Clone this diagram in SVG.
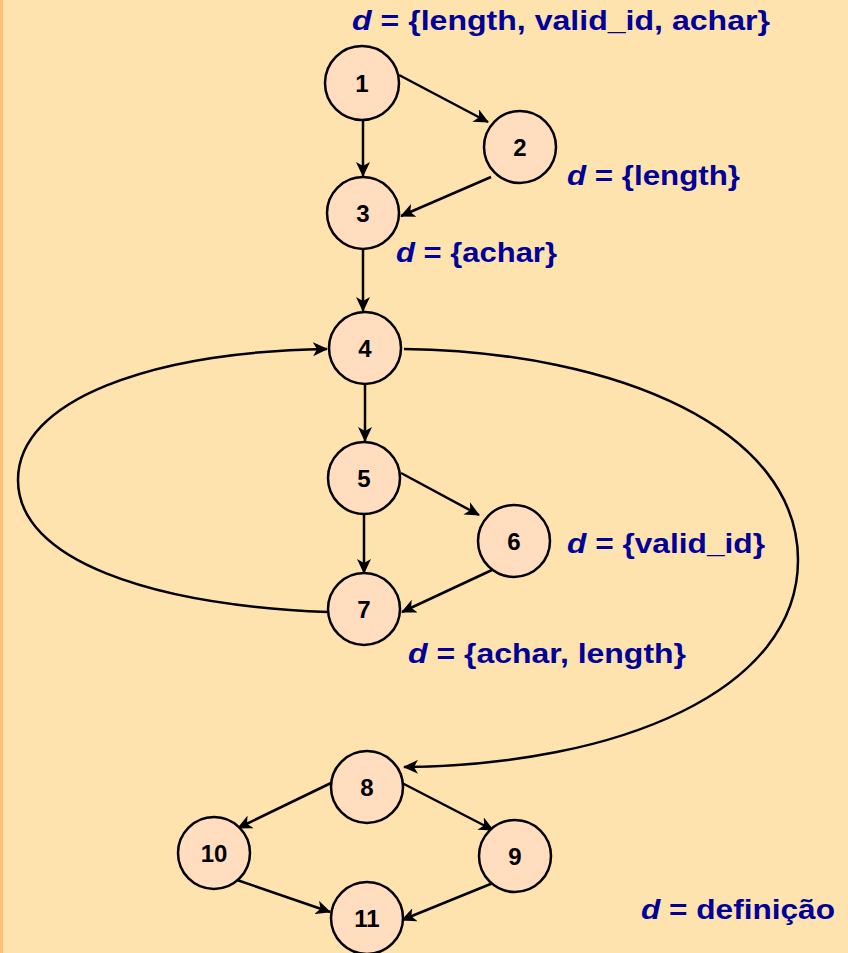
<svg xmlns="http://www.w3.org/2000/svg" width="848" height="953" viewBox="0 0 848 953">
<defs>
<marker id="ah" markerWidth="16" markerHeight="14" refX="14" refY="7" orient="auto" markerUnits="userSpaceOnUse">
<path d="M0,0 L15,7 L0,14 L4,7 Z" fill="#000"/>
</marker>
<style>
.n circle{fill:#FFDDBE;stroke:#000;stroke-width:2.5}
.n text{font-family:"Liberation Sans",Arial,sans-serif;font-weight:bold;font-size:24px;fill:#000;text-anchor:middle}
.e{fill:none;stroke:#000;stroke-width:2.5;marker-end:url(#ah)}
.d{font-family:"Liberation Sans",Arial,sans-serif;font-weight:bold;font-size:27px;fill:#000099}
.d tspan.i{font-style:italic}
</style>
</defs>
<rect x="0" y="0" width="848" height="953" fill="#FFE3AF"/>
<rect x="0" y="0" width="3" height="953" fill="#FFC07A"/>
<g id="connectors">
<line class="e" x1="399" y1="75" x2="488" y2="122"/>
<line class="e" x1="363" y1="120" x2="363" y2="176"/>
<line class="e" x1="491" y1="177" x2="401" y2="216"/>
<line class="e" x1="363" y1="249" x2="363" y2="311"/>
<line class="e" x1="365" y1="385" x2="365" y2="441"/>
<line class="e" x1="401" y1="473" x2="479" y2="515"/>
<line class="e" x1="364" y1="514" x2="364" y2="573"/>
<line class="e" x1="492" y1="570" x2="402" y2="612"/>
<path class="e" d="M328,612 C150,605 18,560 18,480 C18,400 150,352 327,349"/>
<path class="e" d="M404,349 C620,352 798,430 798,560 C798,690 620,765 404,767"/>
<line class="e" x1="331" y1="783" x2="238" y2="828"/>
<line class="e" x1="402" y1="783" x2="493" y2="830"/>
<line class="e" x1="237" y1="880" x2="330" y2="912"/>
<line class="e" x1="493" y1="883" x2="402" y2="920"/>
</g>
<g id="n1" class="n"><circle cx="362" cy="83" r="37"/><text x="362" y="92">1</text></g>
<g id="n2" class="n"><circle cx="520" cy="147" r="36"/><text x="520" y="156">2</text></g>
<g id="n3" class="n"><circle cx="363" cy="213" r="36"/><text x="363" y="222">3</text></g>
<g id="n4" class="n"><circle cx="365" cy="348" r="36"/><text x="365" y="357">4</text></g>
<g id="n5" class="n"><circle cx="364" cy="478" r="36"/><text x="364" y="487">5</text></g>
<g id="n6" class="n"><circle cx="514" cy="541" r="36"/><text x="514" y="550">6</text></g>
<g id="n7" class="n"><circle cx="364" cy="609" r="36"/><text x="364" y="618">7</text></g>
<g id="n8" class="n"><circle cx="367" cy="787" r="36"/><text x="367" y="796">8</text></g>
<g id="n9" class="n"><circle cx="515" cy="856" r="36"/><text x="515" y="865">9</text></g>
<g id="n10" class="n"><circle cx="214" cy="853" r="36"/><text x="214" y="862">10</text></g>
<g id="n11" class="n"><circle cx="367" cy="918" r="36"/><text x="367" y="927">11</text></g>
<g id="labels">
<text class="d" x="352" y="30" textLength="418" lengthAdjust="spacingAndGlyphs"><tspan class="i">d</tspan> = {length, valid_id, achar}</text>
<text class="d" x="567" y="185" textLength="173" lengthAdjust="spacingAndGlyphs"><tspan class="i">d</tspan> = {length}</text>
<text class="d" x="396" y="262" textLength="161" lengthAdjust="spacingAndGlyphs"><tspan class="i">d</tspan> = {achar}</text>
<text class="d" x="567" y="553" textLength="198" lengthAdjust="spacingAndGlyphs"><tspan class="i">d</tspan> = {valid_id}</text>
<text class="d" x="408" y="663" textLength="278" lengthAdjust="spacingAndGlyphs"><tspan class="i">d</tspan> = {achar, length}</text>
<text class="d" x="641" y="919" textLength="194" lengthAdjust="spacingAndGlyphs"><tspan class="i">d</tspan> = definição</text>
</g>
</svg>
